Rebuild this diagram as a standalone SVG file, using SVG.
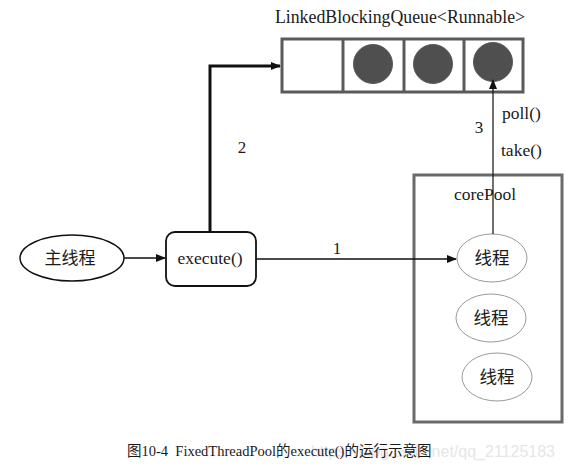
<svg xmlns="http://www.w3.org/2000/svg" width="568" height="467" viewBox="0 0 568 467">
<defs>
<style>
.t{font-family:"Liberation Serif","Noto Sans CJK SC",serif;fill:#1a1a1a}
.cell{fill:#fff;stroke:#5a5a5a;stroke-width:3}
.ball{fill:#4f4f4f;stroke:#5a5a5a;stroke-width:1}
.th{fill:#fff;stroke:#9a9a9a;stroke-width:1}
.c{fill:none;stroke:#111}
</style>
<marker id="ah" markerWidth="10" markerHeight="8" refX="9" refY="4" orient="auto" markerUnits="userSpaceOnUse">
<path d="M0,0 L10,4 L0,8 z" fill="#111"/>
</marker>
</defs>
<rect width="568" height="467" fill="#fff"/>
<g id="queue">
<text class="t" x="400" y="23" font-size="17.8" text-anchor="middle">LinkedBlockingQueue&lt;Runnable&gt;</text>
<rect class="cell" x="282" y="39" width="241" height="53"/>
<line x1="343" y1="39" x2="343" y2="92" stroke="#5a5a5a" stroke-width="3"/>
<line x1="404" y1="39" x2="404" y2="92" stroke="#5a5a5a" stroke-width="3"/>
<line x1="464" y1="39" x2="464" y2="92" stroke="#5a5a5a" stroke-width="3"/>
<circle class="ball" cx="373" cy="64" r="19.5"/>
<circle class="ball" cx="433" cy="64" r="19.5"/>
<circle class="ball" cx="493" cy="62" r="19.5"/>
</g>
<g id="main">
<ellipse cx="72" cy="258" rx="52" ry="23" fill="#fff" stroke="#111" stroke-width="1.5"/>
<text class="t" x="70" y="264" font-size="17" text-anchor="middle">主线程</text>
</g>
<g id="execute">
<rect x="166" y="232" width="90" height="54" rx="9" fill="#fff" stroke="#111" stroke-width="1.8"/>
<text class="t" x="210" y="264" font-size="17.5" text-anchor="middle">execute()</text>
</g>
<g id="corePool">
<rect x="414" y="175" width="148" height="247" fill="none" stroke="#6a6a6a" stroke-width="3"/>
<text class="t" x="485" y="200" font-size="17.5" text-anchor="middle">corePool</text>
</g>
<g id="thread1">
<ellipse class="th" cx="492" cy="258" rx="35" ry="24"/>
<text class="t" x="492" y="264" font-size="17.5" text-anchor="middle">线程</text>
</g>
<g id="thread2">
<ellipse class="th" cx="491" cy="318" rx="35" ry="24"/>
<text class="t" x="491" y="324" font-size="17.5" text-anchor="middle">线程</text>
</g>
<g id="thread3">
<ellipse class="th" cx="497" cy="377" rx="35" ry="24"/>
<text class="t" x="497" y="383" font-size="17.5" text-anchor="middle">线程</text>
</g>
<g id="connectors">
<line class="c" x1="124" y1="258" x2="165" y2="258" stroke-width="1.5" marker-end="url(#ah)"/>
<polyline class="c" points="210,232 210,66 280,66" stroke-width="3" marker-end="url(#ah)"/>
<line class="c" x1="256" y1="259" x2="456" y2="259" stroke-width="1.5" marker-end="url(#ah)"/>
<line class="c" x1="493" y1="234" x2="493" y2="80" stroke-width="1.2" marker-end="url(#ah)"/>
<text class="t" x="242" y="153" font-size="17" text-anchor="middle">2</text>
<text class="t" x="337" y="254" font-size="17" text-anchor="middle">1</text>
<text class="t" x="479" y="133" font-size="17" text-anchor="middle">3</text>
<text class="t" x="502" y="119" font-size="17.5">poll()</text>
<text class="t" x="501" y="156" font-size="17.5">take()</text>
</g>
<text x="555" y="457" font-family="'Liberation Sans',sans-serif" font-size="16" fill="#e6e6e6" text-anchor="end">https://blog.csdn.net/qq_21125183</text>
<text class="t" x="127" y="456" font-size="14.5" xml:space="preserve">图10-4  FixedThreadPool的execute()的运行示意图</text>
</svg>
